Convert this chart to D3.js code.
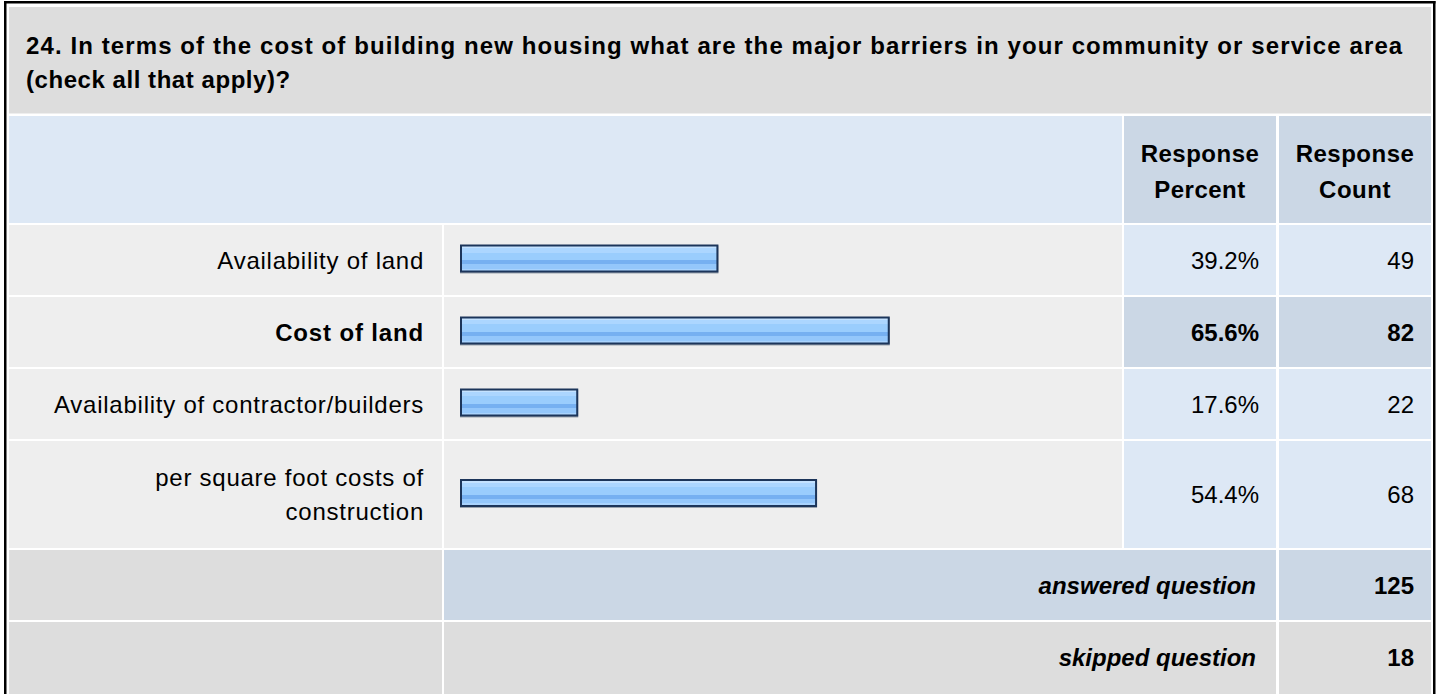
<!DOCTYPE html>
<html>
<head>
<meta charset="utf-8">
<script src="https://cdn.jsdelivr.net/npm/d3@7"></script>
<style>
  html, body { margin: 0; padding: 0; background: #ffffff; }
  svg { display: block; }
  text { font-family: "Liberation Sans", Arial, sans-serif; fill: #000; }
</style>
</head>
<body>
<svg id="chart" width="1437" height="694"></svg>
<script>
// ---- data ----
const titleLines = [
  "24. In terms of the cost of building new housing what are the major barriers in your community or service area",
  "(check all that apply)?"
];
const categories = [
  "Availability of land",
  "Cost of land",
  "Availability of contractor/builders",
  "per square foot costs of construction"
];
const percents = [39.2, 65.6, 17.6, 54.4];
const counts = [49, 82, 22, 68];
const headerPercent = ["Response", "Percent"];
const headerCount = ["Response", "Count"];
const answeredLabel = "answered question";
const skippedLabel = "skipped question";
const answeredCount = 125;
const skippedCount = 18;

// ---- layout ----
const svg = d3.select("#chart");
const FS = 24;
const colLabel = [9, 442], colBar = [444, 1122], colPct = [1124, 1276], colCnt = [1279, 1431];
const C = { gray: "#dddddd", light: "#eeeeee", blue: "#dde8f5", blue2: "#cbd7e5" };
const maxIdx = d3.maxIndex(percents);

// outer frame
svg.append("rect").attr("x", 4).attr("y", 1).attr("width", 1431.5).attr("height", 2.5).attr("fill", "#000");
svg.append("rect").attr("x", 4).attr("y", 1).attr("width", 2.5).attr("height", 700).attr("fill", "#000");
svg.append("rect").attr("x", 1433).attr("y", 1).attr("width", 2.5).attr("height", 700).attr("fill", "#000");

function cell(x0, x1, y0, y1, fill) {
  svg.append("rect").attr("x", x0).attr("y", y0).attr("width", x1 - x0).attr("height", y1 - y0).attr("fill", fill);
}
function txt(x, y, s, anchor, opts = {}) {
  return svg.append("text").attr("x", x).attr("y", y).attr("text-anchor", anchor)
    .attr("font-size", FS).attr("font-weight", opts.bold ? "bold" : "normal")
    .attr("font-style", opts.italic ? "italic" : "normal")
    .attr("letter-spacing", opts.ls || 0)
    .text(s);
}

// title
cell(9, 1431, 7, 113.5, C.gray);
const titleLS = [1.1, 0.55];
titleLines.forEach((l, i) => txt(26, 53.5 + i * 34.5, l, "start", { bold: true, ls: titleLS[i] }).attr("fill", "#111"));

// header row
const hTop = 116, hBot = 223;
cell(colLabel[0], colBar[1], hTop, hBot, C.blue);
cell(colPct[0], colPct[1], hTop, hBot, C.blue2);
cell(colCnt[0], colCnt[1], hTop, hBot, C.blue2);
headerPercent.forEach((l, i) => txt((colPct[0] + colPct[1]) / 2, 161.5 + i * 36, l, "middle", { bold: true, ls: 0.5 }));
headerCount.forEach((l, i) => txt((colCnt[0] + colCnt[1]) / 2, 161.5 + i * 36, l, "middle", { bold: true, ls: 0.5 }));

// gradient for bars
const defs = svg.append("defs");
const g = defs.append("linearGradient").attr("id", "barGrad").attr("x1", 0).attr("y1", 0).attr("x2", 0).attr("y2", 1);
[[0, "#c4e2ff"], [0.083, "#c4e2ff"], [0.083, "#acd6ff"], [0.25, "#acd6ff"], [0.25, "#9acdfd"],
 [0.583, "#9acdfd"], [0.583, "#76b0f1"], [0.75, "#76b0f1"], [0.75, "#94c7fb"], [0.917, "#94c7fb"],
 [0.917, "#a9d3fd"], [1, "#a9d3fd"]].forEach(([o, c]) => g.append("stop").attr("offset", o).attr("stop-color", c));

const x = d3.scaleLinear().domain([0, 100]).range([0, 649]);
const barX = 460, barH = 28;
const labelMaxW = 397, lineH = 34, labelLS = 0.75;

// wrap labels
function wrapWords(s) {
  const probe = svg.append("text").attr("font-size", FS).attr("letter-spacing", labelLS).attr("visibility", "hidden");
  const words = s.split(" ");
  const lines = [];
  let cur = "";
  words.forEach(w => {
    const test = cur ? cur + " " + w : w;
    probe.text(test);
    if (probe.node().getComputedTextLength() > labelMaxW && cur) { lines.push(cur); cur = w; }
    else cur = test;
  });
  if (cur) lines.push(cur);
  probe.remove();
  return lines;
}

let y = 225;
categories.forEach((cat, i) => {
  const lines = wrapWords(cat);
  const h = 70 + (lines.length - 1) * 37;
  const y0 = y, y1 = y + h, cy = y + h / 2;
  const bold = i === maxIdx;
  cell(colLabel[0], colLabel[1], y0, y1, C.light);
  cell(colBar[0], colBar[1], y0, y1, C.light);
  cell(colPct[0], colPct[1], y0, y1, bold ? C.blue2 : C.blue);
  cell(colCnt[0], colCnt[1], y0, y1, bold ? C.blue2 : C.blue);
  lines.forEach((l, k) => {
    const ly = cy + (k - (lines.length - 1) / 2) * lineH + 8.5;
    txt(424, ly, l, "end", { bold, ls: bold ? 0.85 : labelLS });
  });
  // bar
  const by = cy - 1.5 - barH / 2;
  svg.append("rect").attr("x", barX).attr("y", by + 1).attr("width", x(percents[i]) + 4).attr("height", barH)
    .attr("fill", "#9aa3ad");
  svg.append("rect").attr("x", barX).attr("y", by).attr("width", x(percents[i]) + 4).attr("height", barH)
    .attr("fill", "#1c355a");
  svg.append("rect").attr("x", barX + 2).attr("y", by + 2).attr("width", x(percents[i])).attr("height", barH - 4)
    .attr("fill", "url(#barGrad)");
  txt(1259, cy + 8.5, percents[i].toFixed(1) + "%", "end", { bold });
  txt(1414, cy + 8.5, String(counts[i]), "end", { bold });
  y = y1 + 2;
});

// answered
let a0 = y, a1 = a0 + 70;
cell(colLabel[0], colLabel[1], a0, a1, C.gray);
cell(colBar[0], colPct[1], a0, a1, C.blue2);
cell(colCnt[0], colCnt[1], a0, a1, C.blue2);
txt(1256, (a0 + a1) / 2 + 8.5, answeredLabel, "end", { bold: true, italic: true });
txt(1414, (a0 + a1) / 2 + 8.5, String(answeredCount), "end", { bold: true });

// skipped
let s0 = a1 + 2, s1 = s0 + 70;
cell(colLabel[0], colLabel[1], s0, s1 + 10, C.gray);
cell(colBar[0], colPct[1], s0, s1 + 10, C.gray);
cell(colCnt[0], colCnt[1], s0, s1 + 10, C.gray);
txt(1256, (s0 + s1) / 2 + 8.5, skippedLabel, "end", { bold: true, italic: true });
txt(1414, (s0 + s1) / 2 + 8.5, String(skippedCount), "end", { bold: true });
</script>
</body>
</html>
